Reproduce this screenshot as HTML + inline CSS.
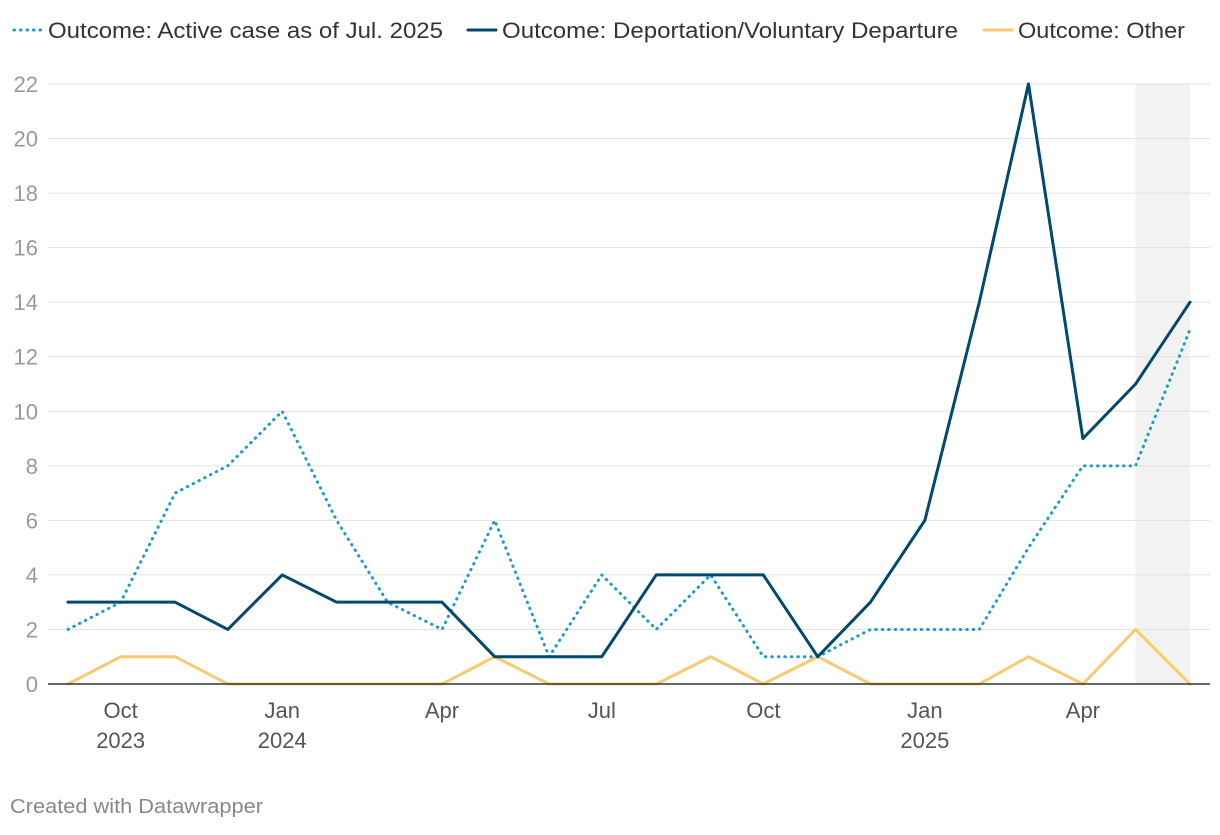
<!DOCTYPE html>
<html><head><meta charset="utf-8"><style>
body{margin:0;background:#fff;font-family:"Liberation Sans",Roboto,sans-serif;}
svg text{font-family:"Liberation Sans",sans-serif;}
</style></head><body>
<svg id="chart" width="1220" height="830" xmlns="http://www.w3.org/2000/svg"></svg>
<script>
const months = ["2023-09","2023-10","2023-11","2023-12","2024-01","2024-02","2024-03","2024-04","2024-05","2024-06","2024-07","2024-08","2024-09","2024-10","2024-11","2024-12","2025-01","2025-02","2025-03","2025-04","2025-05","2025-06"];
const activeVals = [2,3,7,8,10,6,3,2,6,1,4,2,4,1,1,2,2,2,5,8,8,13];
const deportVals = [3,3,3,2,4,3,3,3,1,1,1,4,4,4,1,3,6,14,22,9,11,14];
const otherVals = [0,1,1,0,0,0,0,0,1,0,0,0,1,0,1,0,0,0,1,0,2,0];
const yTicks = [0,2,4,6,8,10,12,14,16,18,20,22];
const xTicks = [["2023-10","Oct","2023"],["2024-01","Jan","2024"],["2024-04","Apr",""],["2024-07","Jul",""],["2024-10","Oct",""],["2025-01","Jan","2025"],["2025-04","Apr",""]];
const shadeRange = ["2025-05","2025-06"];

const svg = document.getElementById('chart');
const NS = "http://www.w3.org/2000/svg";
const t = m => Date.UTC(+m.slice(0,4), +m.slice(5,7)-1, 1);
const t0 = t(months[0]), t1 = t(months[months.length-1]);
const x = m => 68 + (t(m)-t0)/(t1-t0)*(1190-68);
const y = v => 684 - v*(600/22);
function mk(tag, attrs, name){
  const e = document.createElementNS(NS, tag);
  for (const k in attrs) e.setAttribute(k, attrs[k]);
  
  
  svg.appendChild(e); return e;
}
mk('rect',{x:x(shadeRange[0]),y:84,width:x(shadeRange[1])-x(shadeRange[0]),height:600,fill:'#f2f2f2'},'highlight-region');
yTicks.forEach(v=>{
  if(v>0) mk('line',{x1:48,x2:1210,y1:y(v),y2:y(v),stroke:'#e2e2e2','stroke-width':1},'gridline');
  const tx = mk('text',{x:38,y:y(v)+8,'text-anchor':'end','font-size':22,fill:'#9a9a9a'},'y-tick-label');
  tx.textContent = v;
});
xTicks.forEach(d=>{
  const a = mk('text',{x:x(d[0]),y:718,'text-anchor':'middle','font-size':22,fill:'#555'},'x-tick-label');
  a.textContent = d[1];
  if(d[2]){const b = mk('text',{x:x(d[0]),y:748,'text-anchor':'middle','font-size':22,fill:'#555'},'x-tick-year'); b.textContent=d[2];}
});
function line(vals, color, dash, name){
  const pts = vals.map((v,i)=>x(months[i])+','+y(v)).join(' ');
  const attrs = {points:pts,fill:'none',stroke:color,'stroke-width':3,'stroke-linejoin':'round','stroke-linecap':'round'};
  if(dash) attrs['stroke-dasharray']=dash;
  mk('polyline',attrs,name);
}
line(otherVals,'#fdc970',null,'series-other');
line(activeVals,'#1a9dc8','0.5 6','series-active');
line(deportVals,'#00496f',null,'series-deportation');
mk('line',{x1:48,x2:1210,y1:684,y2:684,stroke:'#333','stroke-width':1.5},'x-axis-baseline');
const leg = [[12,'#1a9dc8','0.5 6','Outcome: Active case as of Jul. 2025',395],[466,'#00496f',null,'Outcome: Deportation/Voluntary Departure',456],[982,'#fdc970',null,'Outcome: Other',167]];
leg.forEach(l=>{
  const a = {x1:l[0]+2,x2:l[0]+30,y1:30,y2:30,stroke:l[1],'stroke-width':3,'stroke-linecap':'round'};
  if(l[2]) a['stroke-dasharray']=l[2];
  mk('line',a,'legend-swatch');
  const tx = mk('text',{x:l[0]+36,y:38,'font-size':22,fill:'#333',textLength:l[4],lengthAdjust:'spacingAndGlyphs'},'legend-entry');
  tx.textContent = l[3];
});
const f = mk('text',{x:10,y:813,'font-size':20,fill:'#888',textLength:253,lengthAdjust:'spacingAndGlyphs'},'footer-credit');
f.textContent = 'Created with Datawrapper';
</script>
</body></html>
